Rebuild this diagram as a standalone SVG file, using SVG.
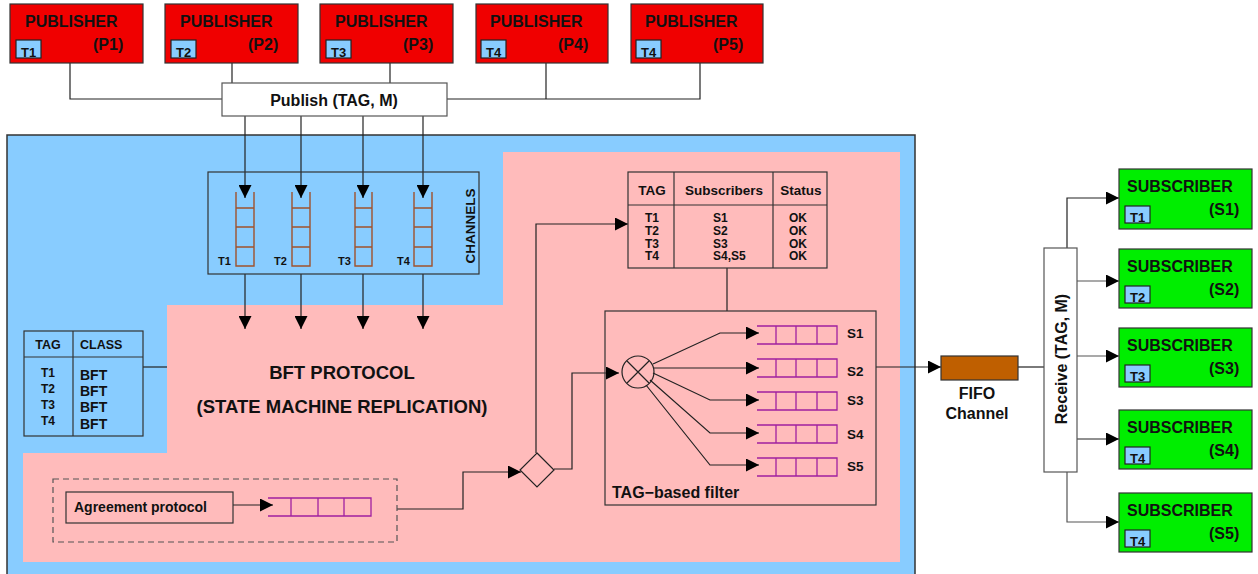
<svg xmlns="http://www.w3.org/2000/svg" width="1258" height="574" viewBox="0 0 1258 574">
  <defs>
    <style>
      text { font-family: "Liberation Sans", Arial, sans-serif; font-weight: bold; fill: #111; }
      .pub { fill: #f00000; stroke: #333; stroke-width: 1.2; }
      .sub { fill: #00ee00; stroke: #333; stroke-width: 1.2; }
      .tag { fill: #88ccff; stroke: #222; stroke-width: 1.2; }
      .box { fill: none; stroke: #333; stroke-width: 1.2; }
      .wbox { fill: #fff; stroke: #555; stroke-width: 1.2; }
      .ln { fill: none; stroke: #222; stroke-width: 1.2; }
      .gl { fill: none; stroke: #555; stroke-width: 1.2; }
      .ladder { fill: none; stroke: #a0522d; stroke-width: 1.4; }
      .queue { fill: none; stroke: #a020a0; stroke-width: 1.3; }
      .big { font-size: 16px; }
      .tt { font-size: 13px; }
    </style>
    <marker id="arr" markerUnits="userSpaceOnUse" markerWidth="14" markerHeight="13" refX="13" refY="6.5" orient="auto">
      <path d="M0,0 L13,6.5 L0,13 z" fill="#000"/>
    </marker>
  </defs>

  <rect width="1258" height="574" fill="#fff"/>

  <!-- system area -->
  <rect id="system" x="7" y="135" width="908" height="450" fill="#88ccff" stroke="#333" stroke-width="1.5"/>
  <polygon id="bft-area" points="503,152 900,152 900,562 23,562 23,453 167,453 167,305 503,305" fill="#ffbbbb"/>

  <!-- connectors -->
  <g id="connectors">
    <polyline class="ln" points="70,63 70,99 222,99"/>
    <line class="ln" x1="232" y1="63" x2="232" y2="83"/>
    <line class="ln" x1="390" y1="63" x2="390" y2="83"/>
    <polyline class="ln" points="447,99 700,99 700,63"/>
    <line class="ln" x1="546" y1="63" x2="546" y2="99"/>
    <line class="ln" x1="245" y1="116" x2="245" y2="198" marker-end="url(#arr)"/>
    <line class="ln" x1="301" y1="116" x2="301" y2="198" marker-end="url(#arr)"/>
    <line class="ln" x1="363" y1="116" x2="363" y2="198" marker-end="url(#arr)"/>
    <line class="ln" x1="423" y1="116" x2="423" y2="198" marker-end="url(#arr)"/>
    <line class="ln" x1="245" y1="274" x2="245" y2="329" marker-end="url(#arr)"/>
    <line class="ln" x1="301" y1="274" x2="301" y2="329" marker-end="url(#arr)"/>
    <line class="ln" x1="363" y1="274" x2="363" y2="329" marker-end="url(#arr)"/>
    <line class="ln" x1="423" y1="274" x2="423" y2="329" marker-end="url(#arr)"/>
    <line class="ln" x1="143" y1="367" x2="167" y2="367"/>
    <line class="ln" x1="233" y1="505" x2="273" y2="505" marker-end="url(#arr)"/>
    <polyline class="ln" points="397,509 463,509 463,472 521,472" marker-end="url(#arr)"/>
    <polyline class="ln" points="536,453 536,224 628,224" marker-end="url(#arr)"/>
    <polyline class="ln" points="554,469 572,469 572,373 619,373" marker-end="url(#arr)"/>
    <line class="ln" x1="727" y1="268" x2="727" y2="311"/>
    <polyline class="ln" points="653,364 720,333 759,333" marker-end="url(#arr)"/>
    <line class="ln" x1="654" y1="368" x2="759" y2="368" marker-end="url(#arr)"/>
    <polyline class="ln" points="653,373 710,400 759,400" marker-end="url(#arr)"/>
    <polyline class="ln" points="650,380 710,433 759,433" marker-end="url(#arr)"/>
    <polyline class="ln" points="646,385 710,465 759,465" marker-end="url(#arr)"/>
    <line class="ln" x1="876" y1="367" x2="941" y2="367" marker-end="url(#arr)"/>
    <line class="ln" x1="1018" y1="367" x2="1044" y2="367"/>
    <polyline class="ln" points="1067,248 1067,198 1119,198" marker-end="url(#arr)"/>
    <line class="gl" x1="1077" y1="281" x2="1119" y2="281" marker-end="url(#arr)"/>
    <line class="gl" x1="1077" y1="356" x2="1119" y2="356" marker-end="url(#arr)"/>
    <line class="ln" x1="1077" y1="439" x2="1119" y2="439" marker-end="url(#arr)"/>
    <polyline class="gl" points="1067,472 1067,522 1119,522" marker-end="url(#arr)"/>
  </g>

  <!-- publishers -->
  <g id="p1">
    <rect class="pub" x="10" y="4" width="133" height="59"/>
    <text class="big" x="25" y="27">PUBLISHER</text>
    <text class="big" x="93" y="50">(P1)</text>
    <rect class="tag" x="16" y="40" width="25" height="18"/>
    <text class="tt" x="21" y="57">T1</text>
  </g>
  <g id="p2">
    <rect class="pub" x="165" y="4" width="133" height="59"/>
    <text class="big" x="180" y="27">PUBLISHER</text>
    <text class="big" x="248" y="50">(P2)</text>
    <rect class="tag" x="171" y="40" width="25" height="18"/>
    <text class="tt" x="176" y="57">T2</text>
  </g>
  <g id="p3">
    <rect class="pub" x="320" y="4" width="133" height="59"/>
    <text class="big" x="335" y="27">PUBLISHER</text>
    <text class="big" x="403" y="50">(P3)</text>
    <rect class="tag" x="326" y="40" width="25" height="18"/>
    <text class="tt" x="331" y="57">T3</text>
  </g>
  <g id="p4">
    <rect class="pub" x="476" y="4" width="132" height="59"/>
    <text class="big" x="490" y="27">PUBLISHER</text>
    <text class="big" x="558" y="50">(P4)</text>
    <rect class="tag" x="481" y="40" width="25" height="18"/>
    <text class="tt" x="486" y="57">T4</text>
  </g>
  <g id="p5">
    <rect class="pub" x="631" y="4" width="132" height="59"/>
    <text class="big" x="645" y="27">PUBLISHER</text>
    <text class="big" x="713" y="50">(P5)</text>
    <rect class="tag" x="636" y="40" width="25" height="18"/>
    <text class="tt" x="641" y="57">T4</text>
  </g>

  <g id="publish">
    <rect class="wbox" x="222" y="83" width="225" height="33"/>
    <text class="big" x="334" y="106" text-anchor="middle">Publish (TAG, M)</text>
  </g>

  <!-- per-tag channels -->
  <g id="channels">
    <rect class="box" x="208" y="172" width="271" height="102"/>
    <g class="ladder">
      <path d="M236,192 V266 H254 V192 M236,208 H254 M236,227 H254 M236,247 H254"/>
      <path d="M292,192 V266 H310 V192 M292,208 H310 M292,227 H310 M292,247 H310"/>
      <path d="M355,192 V266 H372 V192 M355,208 H372 M355,227 H372 M355,247 H372"/>
      <path d="M414,192 V266 H432 V192 M414,208 H432 M414,227 H432 M414,247 H432"/>
    </g>
    <g font-size="11px">
      <text x="218" y="265">T1</text>
      <text x="274" y="265">T2</text>
      <text x="338" y="265">T3</text>
      <text x="397" y="265">T4</text>
    </g>
    <text font-size="13.5px" transform="translate(475,226) rotate(-90)" text-anchor="middle">CHANNELS</text>
  </g>

  <!-- tag classification table -->
  <g id="class-table">
    <rect class="box" x="24" y="331" width="119" height="105"/>
    <line class="box" x1="24" y1="357" x2="143" y2="357"/>
    <line class="box" x1="73" y1="331" x2="73" y2="436"/>
    <text font-size="12.5px" x="48" y="349" text-anchor="middle">TAG</text>
    <text font-size="12.5px" x="80" y="349">CLASS</text>
    <g font-size="12px" text-anchor="middle">
      <text x="48" y="377">T1</text>
      <text x="48" y="393">T2</text>
      <text x="48" y="409">T3</text>
      <text x="48" y="425">T4</text>
    </g>
    <g font-size="14px">
      <text x="80" y="380">BFT</text>
      <text x="80" y="396">BFT</text>
      <text x="80" y="412">BFT</text>
      <text x="80" y="429">BFT</text>
    </g>
  </g>

  <g id="bft-protocol">
    <text font-size="18.5px" x="342" y="379" text-anchor="middle">BFT PROTOCOL</text>
    <text font-size="18.5px" x="342" y="413" text-anchor="middle">(STATE MACHINE REPLICATION)</text>
  </g>

  <!-- agreement stage -->
  <g id="agreement">
    <rect x="53" y="479" width="344" height="63" fill="none" stroke="#555" stroke-width="1.2" stroke-dasharray="6,4"/>
    <rect class="box" x="66" y="492" width="167" height="31"/>
    <text font-size="14px" x="74" y="512">Agreement protocol</text>
    <path class="queue" d="M268,498 H371 V516 H268 M291,498 V516 M318,498 V516 M344,498 V516"/>
  </g>

  <g id="splitter">
    <polygon points="537,453 554,470 537,487 520,470" fill="none" stroke="#222" stroke-width="1.2"/>
  </g>

  <!-- subscription table -->
  <g id="sub-table">
    <rect class="box" x="628" y="172" width="199" height="96"/>
    <line class="box" x1="628" y1="205" x2="827" y2="205"/>
    <line class="box" x1="674" y1="172" x2="674" y2="268"/>
    <line class="box" x1="773" y1="172" x2="773" y2="268"/>
    <g font-size="13.5px" text-anchor="middle">
      <text x="652" y="195">TAG</text>
      <text x="724" y="195">Subscribers</text>
      <text x="801" y="195">Status</text>
    </g>
    <g font-size="12px" text-anchor="middle">
      <text x="652" y="222">T1</text>
      <text x="652" y="235">T2</text>
      <text x="652" y="248">T3</text>
      <text x="652" y="260">T4</text>
      <text x="798" y="222">OK</text>
      <text x="798" y="235">OK</text>
      <text x="798" y="248">OK</text>
      <text x="798" y="260">OK</text>
    </g>
    <g font-size="12px">
      <text x="713" y="222">S1</text>
      <text x="713" y="235">S2</text>
      <text x="713" y="248">S3</text>
      <text x="713" y="260">S4,S5</text>
    </g>
  </g>

  <!-- tag-based filter -->
  <g id="filter">
    <rect class="box" x="605" y="311" width="271" height="194"/>
    <circle cx="638" cy="372" r="16" fill="none" stroke="#222" stroke-width="1.2"/>
    <path d="M627,361 L649,383 M649,361 L627,383" stroke="#222" stroke-width="1.2"/>
    <g class="queue">
      <path d="M757,326 H837 V344 H757 M776,326 V344 M796,326 V344 M817,326 V344"/>
      <path d="M757,359 H837 V377 H757 M776,359 V377 M796,359 V377 M817,359 V377"/>
      <path d="M757,392 H837 V410 H757 M776,392 V410 M796,392 V410 M817,392 V410"/>
      <path d="M757,425 H837 V443 H757 M776,425 V443 M796,425 V443 M817,425 V443"/>
      <path d="M757,458 H837 V476 H757 M776,458 V476 M796,458 V476 M817,458 V476"/>
    </g>
    <g font-size="13.5px">
      <text x="847" y="338">S1</text>
      <text x="847" y="376">S2</text>
      <text x="847" y="405">S3</text>
      <text x="847" y="439">S4</text>
      <text x="847" y="471">S5</text>
    </g>
    <text font-size="16px" x="612" y="498">TAG−based filter</text>
  </g>

  <g id="fifo">
    <rect x="941" y="356" width="77" height="24" fill="#bf5f00" stroke="#333" stroke-width="1.2"/>
    <text class="big" x="977" y="399" text-anchor="middle">FIFO</text>
    <text class="big" x="977" y="419" text-anchor="middle">Channel</text>
  </g>

  <g id="receive">
    <rect class="wbox" x="1044" y="248" width="33" height="224"/>
    <text class="big" transform="translate(1067,359) rotate(-90)" text-anchor="middle">Receive (TAG, M)</text>
  </g>

  <!-- subscribers -->
  <g id="s1">
    <rect class="sub" x="1119" y="169" width="133" height="60"/>
    <text class="big" x="1127" y="192">SUBSCRIBER</text>
    <text class="big" x="1209" y="215">(S1)</text>
    <rect class="tag" x="1125" y="206" width="25" height="17"/>
    <text class="tt" x="1130" y="222">T1</text>
  </g>
  <g id="s2">
    <rect class="sub" x="1119" y="249" width="133" height="59"/>
    <text class="big" x="1127" y="272">SUBSCRIBER</text>
    <text class="big" x="1209" y="295">(S2)</text>
    <rect class="tag" x="1125" y="286" width="25" height="17"/>
    <text class="tt" x="1130" y="302">T2</text>
  </g>
  <g id="s3">
    <rect class="sub" x="1119" y="328" width="133" height="59"/>
    <text class="big" x="1127" y="351">SUBSCRIBER</text>
    <text class="big" x="1209" y="374">(S3)</text>
    <rect class="tag" x="1125" y="365" width="25" height="17"/>
    <text class="tt" x="1130" y="381">T3</text>
  </g>
  <g id="s4">
    <rect class="sub" x="1119" y="410" width="133" height="59"/>
    <text class="big" x="1127" y="433">SUBSCRIBER</text>
    <text class="big" x="1209" y="456">(S4)</text>
    <rect class="tag" x="1125" y="447" width="25" height="17"/>
    <text class="tt" x="1130" y="463">T4</text>
  </g>
  <g id="s5">
    <rect class="sub" x="1119" y="493" width="133" height="59"/>
    <text class="big" x="1127" y="516">SUBSCRIBER</text>
    <text class="big" x="1209" y="539">(S5)</text>
    <rect class="tag" x="1125" y="530" width="25" height="17"/>
    <text class="tt" x="1130" y="546">T4</text>
  </g>
</svg>
